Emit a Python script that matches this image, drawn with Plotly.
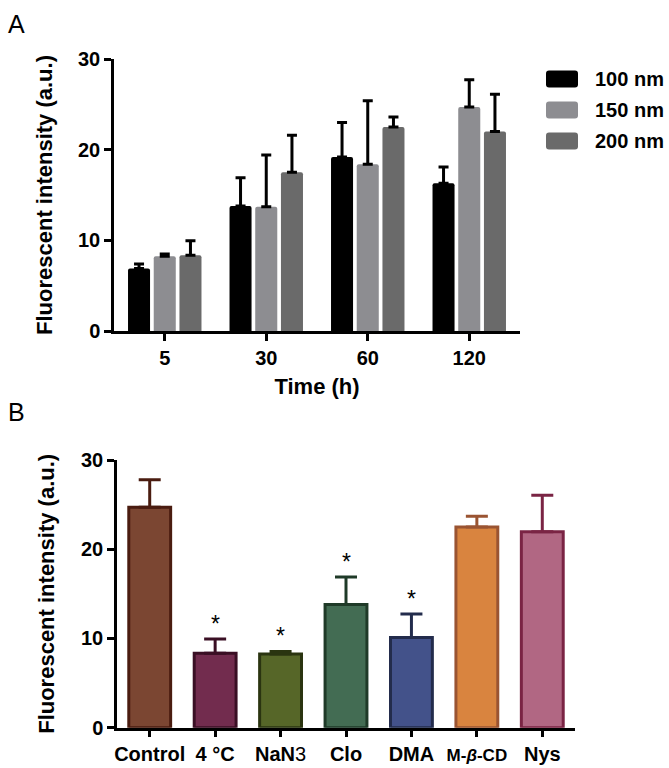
import plotly.graph_objects as go

# ---------------- data ----------------
times = ["5", "30", "60", "120"]
size_names = ["100 nm", "150 nm", "200 nm"]
mean_100 = [6.9, 13.8, 19.2, 16.3]
err_100 = [0.5, 3.1, 3.8, 1.8]
mean_150 = [8.25, 13.7, 18.4, 24.7]
err_150 = [0.25, 5.7, 7.0, 3.0]
mean_200 = [8.35, 17.5, 22.5, 22.0]
err_200 = [1.6, 4.1, 1.1, 4.1]
size_colors = ["#000000", "#8D8D91", "#6A6A6A"]

treatments = ["Control", "4 °C", "NaN3", "Clo", "DMA", "M-β-CD", "Nys"]
treatment_ticktext = ["Control", "4 °C", "NaN<span style='font-weight:normal'>3</span>", "Clo", "DMA",
                      "<span style='font-size:17px'>M-<i>β</i>-CD</span>", "Nys"]
means_b = [24.7, 8.35, 8.25, 13.8, 10.1, 22.5, 21.95]
err_b = [3.1, 1.6, 0.3, 3.1, 2.65, 1.2, 4.1]
significant = [False, True, True, True, True, False, False]
fill_b = ["#7B4632", "#722C4E", "#566628", "#436C53", "#43528A", "#D9843F", "#B16783"]
line_b = ["#4A1C10", "#3A0F24", "#2A3410", "#1F3A28", "#232C4C", "#9A5432", "#7A2444"]

W, H = 669, 768
FONT = "Liberation Sans, Arial, Helvetica, sans-serif"

def px_x(p):
    return p / W

def px_y(p):
    return 1 - p / H

fig = go.Figure()

# ---------------- panel A ----------------
for name, m, e, c in zip(size_names, [mean_100, mean_150, mean_200], [err_100, err_150, err_200], size_colors):
    fig.add_trace(go.Bar(
        x=times, y=m, name=name, xaxis="x", yaxis="y",
        marker=dict(color=c, line=dict(width=0), cornerradius=2),
        error_y=dict(type="data", array=e, arrayminus=[0] * len(e), symmetric=False,
                     color="#000000", thickness=3, width=5),
        showlegend=False,
    ))

# ---------------- panel B ----------------
for t, m, e, fc, lc in zip(treatments, means_b, err_b, fill_b, line_b):
    fig.add_trace(go.Bar(
        x=[t], y=[m], name=t, xaxis="x2", yaxis="y2",
        width=0.64, offset=-0.32,
        marker=dict(color=fc, line=dict(color=lc, width=3)),
        error_y=dict(type="data", array=[e], arrayminus=[0], symmetric=False,
                     color=lc, thickness=3, width=11),
        showlegend=False,
    ))

annotations = []
for t, m, e, s in zip(treatments, means_b, err_b, significant):
    if s:
        annotations.append(dict(x=t, y=m + e, xref="x2", yref="y2", text="*", showarrow=False,
                                yanchor="middle", yshift=15,
                                font=dict(family=FONT, size=23, color="#000000")))

# panel letters
annotations.append(dict(x=px_x(6), y=px_y(24), xref="paper", yref="paper", text="A", showarrow=False,
                        xanchor="left", yanchor="middle", font=dict(family=FONT, size=25, color="#000000")))
annotations.append(dict(x=px_x(6), y=px_y(412), xref="paper", yref="paper", text="B", showarrow=False,
                        xanchor="left", yanchor="middle", font=dict(family=FONT, size=25, color="#000000")))

# manual legend for panel A
shapes = []
leg_x0, leg_x1 = 546, 578
leg_rows = [79, 110, 141]
for name, c, yc in zip(size_names, size_colors, leg_rows):
    x0, x1 = px_x(leg_x0), px_x(leg_x1)
    y0, y1 = px_y(yc + 8.5), px_y(yc - 8.5)
    rx, ry = 3 / W, 3 / H
    path = (f"M {x0+rx},{y0} L {x1-rx},{y0} Q {x1},{y0} {x1},{y0+ry} L {x1},{y1-ry} "
            f"Q {x1},{y1} {x1-rx},{y1} L {x0+rx},{y1} Q {x0},{y1} {x0},{y1-ry} "
            f"L {x0},{y0+ry} Q {x0},{y0} {x0+rx},{y0} Z")
    shapes.append(dict(type="path", path=path, xref="paper", yref="paper",
                       fillcolor=c, line=dict(width=0)))
    annotations.append(dict(x=px_x(593), y=px_y(yc), xref="paper", yref="paper", text=name,
                            showarrow=False, xanchor="left", yanchor="middle",
                            font=dict(family=FONT, size=20, color="#000000", weight="bold")))

tickfont = dict(family=FONT, size=20, color="#000000", weight="bold")
titlefont = dict(family=FONT, size=22, color="#000000", weight="bold")

axis_common = dict(showline=True, linecolor="#000000", linewidth=2.5, ticks="outside",
                   ticklen=7, tickwidth=2.5, tickcolor="#000000", showgrid=False,
                   zeroline=False, automargin=False, tickfont=tickfont)

fig.update_layout(
    width=W, height=H,
    margin=dict(l=0, r=0, t=0, b=0),
    paper_bgcolor="white", plot_bgcolor="white",
    barmode="group", bargap=0.24, bargroupgap=0.143,
    showlegend=False,
    xaxis=dict(domain=[px_x(114), px_x(520)], anchor="y",
               title=dict(text="Time (h)", font=titlefont, standoff=11),
               range=[-0.5, 3.5], **axis_common),
    yaxis=dict(domain=[px_y(331), px_y(59)], anchor="x", range=[0, 30], tickvals=[0, 10, 20, 30],
               title=dict(text="Fluorescent intensity (a.u.)", font=titlefont, standoff=20),
               **axis_common),
    xaxis2=dict(domain=[px_x(117), px_x(575)], anchor="y2", range=[-0.5, 6.5],
                tickvals=treatments, ticktext=treatment_ticktext, **axis_common),
    yaxis2=dict(domain=[px_y(727.7), px_y(460)], anchor="x2", range=[0, 30], tickvals=[0, 10, 20, 30],
                title=dict(text="Fluorescent intensity (a.u.)", font=titlefont, standoff=21),
                **axis_common),
    annotations=annotations,
    shapes=shapes,
)

fig.write_html("out.html", config={"displayModeBar": False},
               post_script="document.body.style.margin='0';document.body.style.overflow='hidden';")
